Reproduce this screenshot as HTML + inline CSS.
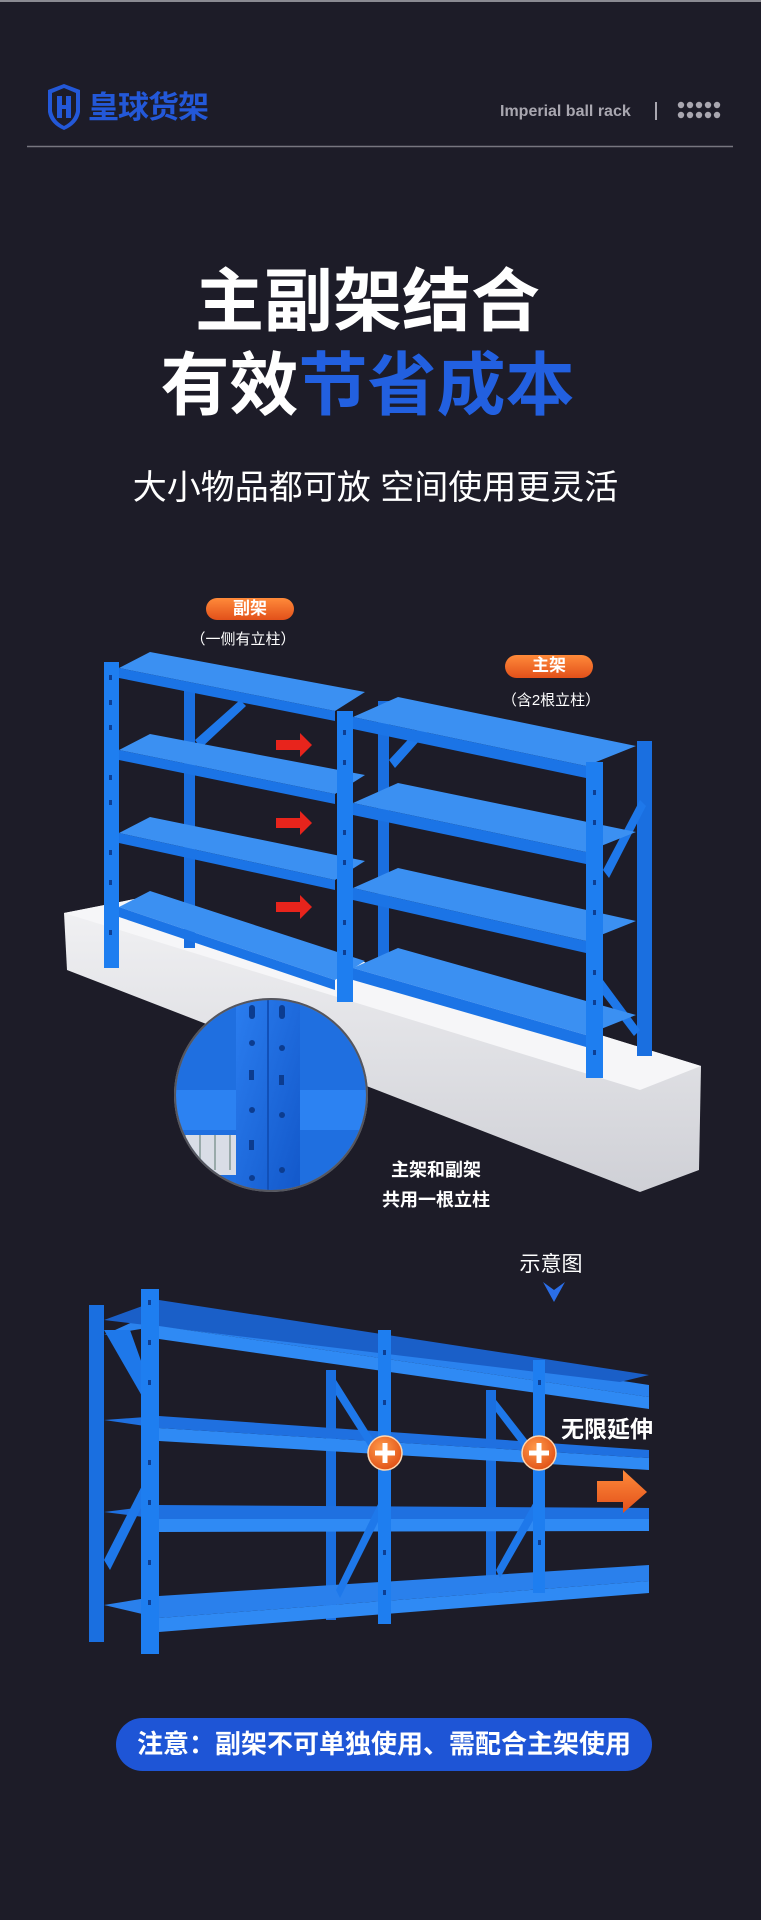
<!DOCTYPE html>
<html><head><meta charset="utf-8">
<style>
html,body{margin:0;padding:0}
body{width:761px;height:1920px;background:#1d1c28;position:relative;overflow:hidden;font-family:"Liberation Sans","Noto Sans CJK SC",sans-serif}
.t{position:absolute;white-space:nowrap;line-height:1}
</style></head><body>
<svg width="761" height="1920" style="position:absolute;left:0;top:0">
<defs>
<linearGradient id="og" x1="0" y1="0" x2="0" y2="1"><stop offset="0" stop-color="#ff8a3a"/><stop offset="1" stop-color="#e2501a"/></linearGradient>
<linearGradient id="plat" x1="0" y1="0" x2="0" y2="1"><stop offset="0" stop-color="#f2f2f4"/><stop offset="1" stop-color="#cfd0d6"/></linearGradient>
<radialGradient id="pc" cx="0.4" cy="0.35" r="0.7"><stop offset="0" stop-color="#ff9a4a"/><stop offset="1" stop-color="#e04f15"/></radialGradient>
<linearGradient id="cz" x1="0" y1="0" x2="1" y2="1"><stop offset="0" stop-color="#2b7ef0"/><stop offset="1" stop-color="#1257c9"/></linearGradient>
<clipPath id="cc"><circle cx="271" cy="1095" r="95"/></clipPath>
</defs>
<rect x="0" y="0" width="761" height="2" fill="#8a8a92"/>
<path d="M48 90 L64 84 L80 90 L80 112 Q78 124 64 130 Q50 124 48 112 Z" fill="#2358d8"/>
<path d="M52 93 L64 88 L76 93 L76 111 Q74 121 64 126 Q54 121 52 111 Z" fill="#1d1c28"/>
<path d="M57 96 h5 v9 h4 v-9 h5 v22 h-5 v-9 h-4 v9 h-5 Z" fill="#2358d8"/>
<line x1="27" y1="146.5" x2="733" y2="146.5" stroke="#77767f" stroke-width="1.5"/>
<rect x="655" y="102" width="2" height="18" fill="#a9a7b0"/>
<g fill="#a9a7b0">
<circle cx="681" cy="105" r="3.2"/><circle cx="690" cy="105" r="3.2"/><circle cx="699" cy="105" r="3.2"/><circle cx="708" cy="105" r="3.2"/><circle cx="717" cy="105" r="3.2"/>
<circle cx="681" cy="115" r="3.2"/><circle cx="690" cy="115" r="3.2"/><circle cx="699" cy="115" r="3.2"/><circle cx="708" cy="115" r="3.2"/><circle cx="717" cy="115" r="3.2"/>
</g>
<polygon points="64,913 150,896 701,1066 699,1170 640,1192 67,970" fill="url(#plat)"/>
<polygon points="64,913 150,896 701,1066 640,1090" fill="#f6f6f8"/>
<g>
<rect x="184" y="686" width="11" height="262" fill="#1a6fe0"/>
<polygon points="195,740 240,700 246,706 201,748" fill="#1e78ea"/>
<polygon points="119,668 335,711 365,692 150,652" fill="#3b90f2"/>
<polygon points="119,668 335,711 335,721 119,678" fill="#1b74e6"/>
<polygon points="119,750 335,794 365,775 150,734" fill="#3b90f2"/>
<polygon points="119,750 335,794 335,804 119,760" fill="#1b74e6"/>
<polygon points="119,833 335,880 365,861 150,817" fill="#3b90f2"/>
<polygon points="119,833 335,880 335,890 119,843" fill="#1b74e6"/>
<polygon points="119,907 335,980 365,961 150,891" fill="#3b90f2"/>
<polygon points="119,907 335,980 335,990 119,917" fill="#1b74e6"/>
<rect x="104" y="662" width="15" height="306" fill="#1e7ef0"/>
<g fill="#0d3f94"><rect x="109" y="675" width="3" height="5"/><rect x="109" y="700" width="3" height="5"/><rect x="109" y="725" width="3" height="5"/><rect x="109" y="775" width="3" height="5"/><rect x="109" y="800" width="3" height="5"/><rect x="109" y="850" width="3" height="5"/><rect x="109" y="880" width="3" height="5"/><rect x="109" y="930" width="3" height="5"/></g>
</g>
<g fill="#e8241c">
<polygon points="276,740 300,740 300,733 312,745 300,757 300,750 276,750"/>
<polygon points="276,818 300,818 300,811 312,823 300,835 300,828 276,828"/>
<polygon points="276,902 300,902 300,895 312,907 300,919 300,912 276,912"/>
</g>
<g>
<rect x="378" y="701" width="11" height="270" fill="#1a6fe0"/>
<rect x="637" y="741" width="15" height="315" fill="#1a6fe0"/>
<polygon points="389,760 430,716 436,722 395,768" fill="#1e78ea"/>
<polygon points="603,870 640,800 646,806 609,878" fill="#1e78ea"/>
<polygon points="603,980 640,1030 634,1036 603,995" fill="#1e78ea"/>
<polygon points="353,717 586,766 636,746 398,697" fill="#3b90f2"/>
<polygon points="353,717 586,766 586,778 353,729" fill="#1b74e6"/>
<polygon points="353,803 586,852 636,832 398,783" fill="#3b90f2"/>
<polygon points="353,803 586,852 586,864 353,815" fill="#1b74e6"/>
<polygon points="353,888 586,941 636,921 398,868" fill="#3b90f2"/>
<polygon points="353,888 586,941 586,953 353,900" fill="#1b74e6"/>
<polygon points="353,968 586,1035 636,1015 398,948" fill="#3b90f2"/>
<polygon points="353,968 586,1035 586,1047 353,980" fill="#1b74e6"/>
<rect x="337" y="711" width="16" height="291" fill="#1e7ef0"/>
<rect x="586" y="762" width="17" height="316" fill="#1e7ef0"/>
<g fill="#0d3f94"><rect x="343" y="730" width="3" height="5"/><rect x="343" y="760" width="3" height="5"/><rect x="343" y="830" width="3" height="5"/><rect x="343" y="860" width="3" height="5"/><rect x="343" y="920" width="3" height="5"/><rect x="343" y="950" width="3" height="5"/><rect x="593" y="790" width="3" height="5"/><rect x="593" y="820" width="3" height="5"/><rect x="593" y="880" width="3" height="5"/><rect x="593" y="910" width="3" height="5"/><rect x="593" y="970" width="3" height="5"/><rect x="593" y="1000" width="3" height="5"/><rect x="593" y="1050" width="3" height="5"/></g>
</g>
<circle cx="271" cy="1095" r="97" fill="#8b8d95"/>
<g clip-path="url(#cc)">
<rect x="170" y="990" width="210" height="210" fill="#1f6fe0"/>
<rect x="170" y="1090" width="210" height="40" fill="#2c82f2"/>
<rect x="170" y="1135" width="80" height="40" fill="#d9dde6"/>
<g stroke="#9aa" stroke-width="2"><line x1="185" y1="1135" x2="185" y2="1170"/><line x1="200" y1="1135" x2="200" y2="1170"/><line x1="215" y1="1135" x2="215" y2="1170"/><line x1="230" y1="1135" x2="230" y2="1170"/></g>
<rect x="236" y="990" width="64" height="210" fill="url(#cz)"/>
<line x1="268" y1="990" x2="268" y2="1200" stroke="#1150b8" stroke-width="2"/>
<g fill="#0c3c8f"><rect x="249" y="1005" width="6" height="14" rx="3"/><rect x="279" y="1005" width="6" height="14" rx="3"/><circle cx="252" cy="1043" r="3"/><circle cx="282" cy="1048" r="3"/><rect x="249" y="1070" width="5" height="10"/><rect x="279" y="1075" width="5" height="10"/><circle cx="252" cy="1110" r="3"/><circle cx="282" cy="1115" r="3"/><rect x="249" y="1140" width="5" height="10"/><circle cx="252" cy="1178" r="3"/><circle cx="282" cy="1170" r="3"/></g>
</g>
<circle cx="271" cy="1095" r="96" fill="none" stroke="#55565e" stroke-width="2"/>
<rect x="206" y="598" width="88" height="22" rx="11" fill="url(#og)"/>
<rect x="505" y="655" width="88" height="23" rx="11.5" fill="url(#og)"/>
<polygon points="543,1282 554,1290 565,1282 554,1302" fill="#2a6ee8"/>
<g>
<rect x="326" y="1370" width="10" height="250" fill="#1a6fe0"/>
<rect x="486" y="1390" width="10" height="210" fill="#1a6fe0"/>
<polygon points="104,1335 159,1310 649,1385 649,1397 159,1326" fill="#2a82ee"/>
<polygon points="104,1320 159,1300 649,1375 620,1382" fill="#1a5fc8"/>
<polygon points="159,1326 649,1397 649,1409 159,1339" fill="#2f8af4"/>
<polygon points="159,1428 649,1458 649,1470 159,1441" fill="#2f8af4"/>
<polygon points="104,1420 159,1416 649,1450 649,1458 159,1428" fill="#1f70e0"/>
<polygon points="159,1519 649,1519 649,1531 159,1532" fill="#2f8af4"/>
<polygon points="104,1512 159,1505 649,1508 649,1519 159,1519" fill="#1f70e0"/>
<polygon points="159,1618 649,1581 649,1593 159,1632" fill="#2f8af4"/>
<polygon points="104,1605 159,1596 649,1565 649,1581 159,1618" fill="#2a80ec"/>
<polygon points="104,1330 130,1330 155,1400 150,1410" fill="#1e78ea"/>
<polygon points="104,1560 150,1470 155,1480 110,1570" fill="#1e78ea"/>
<polygon points="336,1380 380,1450 376,1458 336,1395" fill="#1e78ea"/>
<polygon points="336,1590 380,1500 384,1510 340,1598" fill="#1e78ea"/>
<polygon points="496,1400 535,1450 531,1458 496,1412" fill="#1e78ea"/>
<polygon points="496,1570 535,1500 539,1510 500,1578" fill="#1e78ea"/>
<rect x="89" y="1305" width="15" height="337" fill="#1a6fe0"/>
<rect x="141" y="1289" width="18" height="365" fill="#1e7ef0"/>
<rect x="378" y="1330" width="13" height="294" fill="#1e7ef0"/>
<rect x="533" y="1360" width="12" height="233" fill="#1e7ef0"/>
<g fill="#0d3f94"><rect x="148" y="1300" width="3" height="5"/><rect x="148" y="1340" width="3" height="5"/><rect x="148" y="1380" width="3" height="5"/><rect x="148" y="1460" width="3" height="5"/><rect x="148" y="1500" width="3" height="5"/><rect x="148" y="1560" width="3" height="5"/><rect x="148" y="1600" width="3" height="5"/><rect x="383" y="1350" width="3" height="5"/><rect x="383" y="1400" width="3" height="5"/><rect x="383" y="1550" width="3" height="5"/><rect x="383" y="1590" width="3" height="5"/><rect x="538" y="1380" width="3" height="5"/><rect x="538" y="1540" width="3" height="5"/></g>
</g>
<g>
<circle cx="385" cy="1453" r="17" fill="url(#pc)" stroke="#ffd7b0" stroke-width="1.5"/>
<rect x="375" y="1450.5" width="20" height="5" fill="#fff"/><rect x="382.5" y="1443" width="5" height="20" fill="#fff"/>
<circle cx="539" cy="1453" r="17" fill="url(#pc)" stroke="#ffd7b0" stroke-width="1.5"/>
<rect x="529" y="1450.5" width="20" height="5" fill="#fff"/><rect x="536.5" y="1443" width="5" height="20" fill="#fff"/>
</g>
<polygon points="597,1481 623,1481 623,1470 647,1492 623,1513 623,1502 597,1502" fill="url(#og)"/>
<rect x="116" y="1718" width="536" height="53" rx="26.5" fill="#1e55d6"/>
</svg>

<div class="t" style="left:88px;top:92px;font-size:31px;font-weight:bold;color:#2358d8;letter-spacing:-1px">皇球货架</div>
<div class="t" style="left:500px;top:104px;font-size:16px;font-weight:bold;color:#a9a7b0">Imperial ball rack</div>
<div class="t" style="left:-13px;width:761px;text-align:center;top:267px;font-size:69px;font-weight:bold;color:#fff">主副架结合</div>
<div class="t" style="left:-13px;width:761px;text-align:center;top:351px;font-size:69px;font-weight:bold;color:#fff">有效<span style="color:#2260e0">节省成本</span></div>
<div class="t" style="left:-5px;width:761px;text-align:center;top:471px;font-size:34px;color:#fff">大小物品都可放 空间使用更灵活</div>
<div class="t" style="left:206px;width:88px;text-align:center;top:600px;font-size:17px;font-weight:bold;color:#fff">副架</div>
<div class="t" style="left:163px;width:160px;text-align:center;top:632px;font-size:15px;color:#fff">（一侧有立柱）</div>
<div class="t" style="left:505px;width:88px;text-align:center;top:657px;font-size:17px;font-weight:bold;color:#fff">主架</div>
<div class="t" style="left:471px;width:160px;text-align:center;top:693px;font-size:15px;color:#fff">（含2根立柱）</div>
<div class="t" style="left:336px;width:200px;text-align:center;top:1161px;font-size:18px;font-weight:bold;color:#fff">主架和副架</div>
<div class="t" style="left:336px;width:200px;text-align:center;top:1191px;font-size:18px;font-weight:bold;color:#fff">共用一根立柱</div>
<div class="t" style="left:491px;width:120px;text-align:center;top:1254px;font-size:21px;color:#fff">示意图</div>
<div class="t" style="left:561px;top:1418px;font-size:23px;font-weight:bold;color:#fff">无限延伸</div>
<div class="t" style="left:116px;width:536px;text-align:center;top:1731px;font-size:26px;font-weight:bold;color:#fff">注意：副架不可单独使用、需配合主架使用</div>
</body></html>
